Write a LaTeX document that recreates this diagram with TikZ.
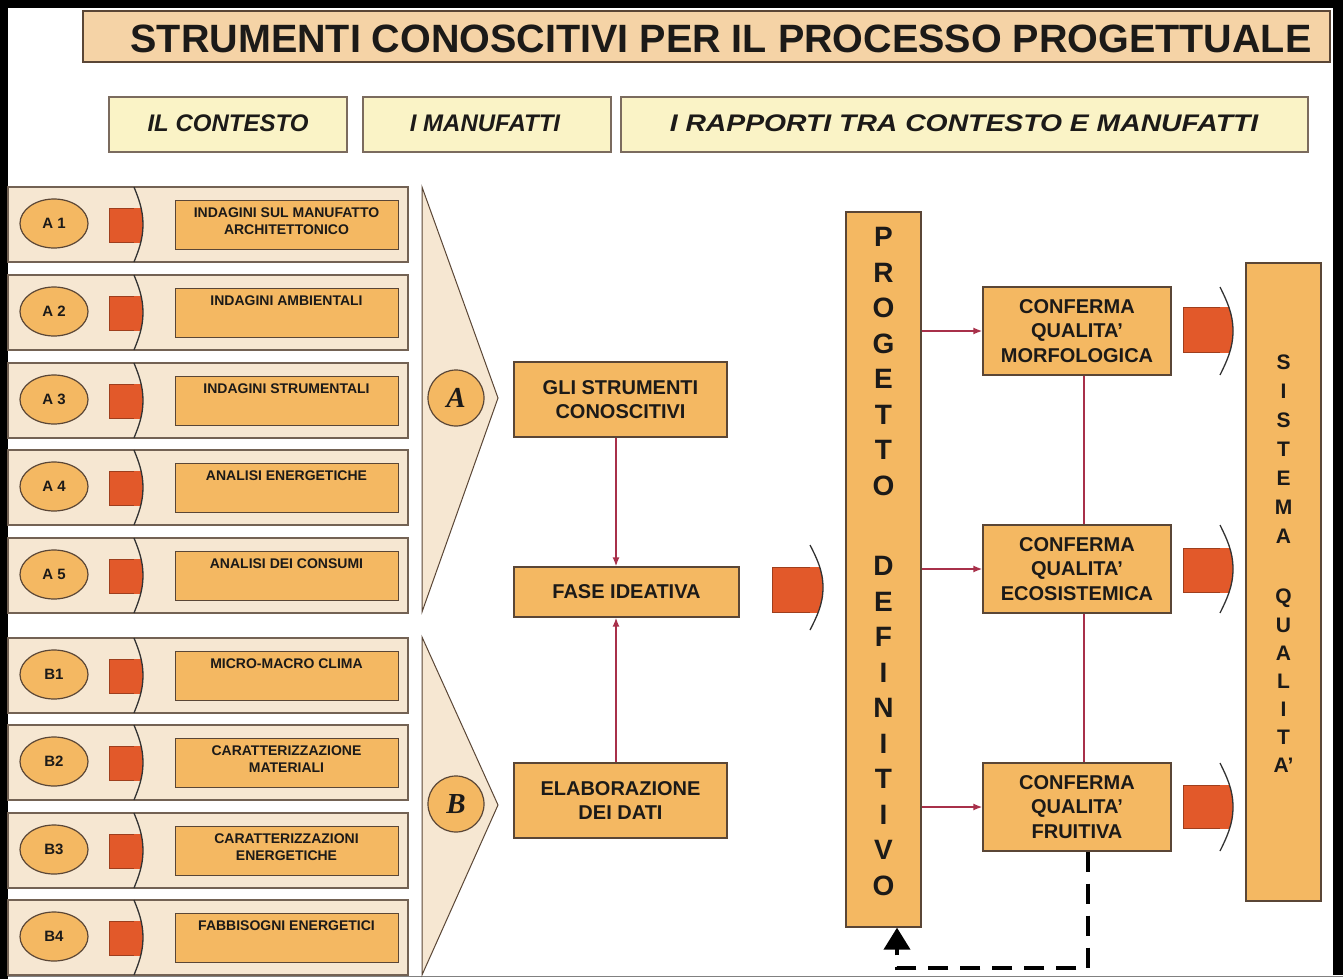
\documentclass[tikz,border=0pt]{standalone}
\usepackage{fontspec}
\setmainfont{Liberation Sans}
\newfontfamily\tnr{Liberation Serif}
\usetikzlibrary{arrows.meta,shapes.geometric}
\definecolor{titlefill}{HTML}{F5D3A6}
\definecolor{subfill}{HTML}{FAF3C6}
\definecolor{bandfill}{HTML}{F6E7D2}
\definecolor{boxfill}{HTML}{F4B862}
\definecolor{arrfill}{HTML}{E2592A}
\definecolor{edgec}{HTML}{5A4636}
\definecolor{redc}{HTML}{A8304A}
\definecolor{txtc}{HTML}{1C1A18}
\newcommand{\blockarr}[7]{%
  \pgfmathsetmacro\bam{(#4+#5)/2}%
  \pgfmathsetmacro\bah{(#5-#4)/2}%
  \pgfmathsetmacro\bad{#3-#2}%
  \begin{scope}
    \clip (#1,#6) rectangle (#3+1,#7);
    \fill[arrfill] (#1,#4) -- (#2,#4) .. controls ({#2+0.5*\bad},{#4+0.3*\bah}) and (#3,{\bam-0.4*\bah}) .. (#3,\bam) .. controls (#3,{\bam+0.4*\bah}) and ({#2+0.5*\bad},{#5-0.3*\bah}) .. (#2,#5) -- (#1,#5) -- cycle;
  \end{scope}
  \draw[arredge] (#2,#6) -- (#1,#6) -- (#1,#7) -- (#2,#7);
  \draw[arrhead] (#2,#4) .. controls ({#2+0.5*\bad},{#4+0.3*\bah}) and (#3,{\bam-0.4*\bah}) .. (#3,\bam) .. controls (#3,{\bam+0.4*\bah}) and ({#2+0.5*\bad},{#5-0.3*\bah}) .. (#2,#5);
}
\tikzset{
  titlebox/.style={draw=edgec, line width=1.3pt, fill=titlefill, inner sep=0pt},
  subbox/.style={draw=edgec!80, line width=1.3pt, fill=subfill, inner sep=0pt, minimum height=55pt},
  subtxt/.style={font=\fontsize{24}{24}\selectfont\bfseries\itshape, text=txtc},
  band/.style={draw=edgec!85, line width=1.2pt, fill=bandfill},
  arredge/.style={draw=arrfill!70!black, line width=0.8pt},
  arrhead/.style={draw=black!80, line width=1.3pt},
  lab/.style={ellipse, draw=edgec, line width=1.2pt, fill=boxfill, minimum width=68pt, minimum height=49pt, inner sep=0pt, font=\fontsize{15}{15}\selectfont\bfseries, text=txtc},
  itembox/.style={draw=edgec, line width=1.3pt, fill=boxfill, minimum width=223pt, minimum height=49pt, inner sep=0pt},
  itemtxt/.style={font=\fontsize{14}{17}\selectfont\bfseries, align=center, inner sep=0pt, text=txtc},
  chev/.style={draw=edgec, line width=1pt, fill=bandfill},
  circ/.style={circle, draw=edgec, line width=1.2pt, fill=boxfill, minimum size=56pt, inner sep=0pt, font=\fontsize{29}{29}\selectfont\tnr\bfseries\itshape, text=txtc},
  mainbox/.style={draw=edgec, line width=1.3pt, fill=boxfill, inner sep=0pt, align=center, font=\fontsize{20}{24.5}\selectfont\bfseries, text=txtc},
  bigl/.style={inner sep=0pt, font=\fontsize{28}{28}\selectfont\bfseries, text=txtc},
  sisl/.style={inner sep=0pt, font=\fontsize{21}{21}\selectfont\bfseries, text=txtc},
  redarr/.style={draw=redc, line width=1.5pt, -{Latex[length=9pt,width=7pt]}},
  redline/.style={draw=redc, line width=1.5pt},
  dashl/.style={draw=black, line width=4pt, dash pattern=on 20pt off 12pt, -{Triangle[length=22pt,width=26pt]}}
}
\begin{document}
\begin{tikzpicture}[x=1pt,y=-1pt]
\useasboundingbox (0,0) rectangle (1343,979);
\fill[white] (0,0) rectangle (1343,979);
% frame
\fill[black] (0,0) rectangle (8,979);
\fill[black] (0,0) rectangle (1343,8);
\fill[black] (1333,0) rectangle (1343,975);
\draw[gray, line width=1.5pt] (8,976.5) -- (1343,976.5);
% title
\node[titlebox, minimum width=1247pt, minimum height=51pt] (title) at (706.5,36.5) {};
\node[inner sep=0pt, font=\fontsize{39.5}{39.5}\selectfont\bfseries, text=txtc] (titletxt) at (721,39) {STRUMENTI CONOSCITIVI PER IL PROCESSO PROGETTUALE};
% sub headers
\node[subbox, minimum width=238pt] (h1) at (228,124.5) {};
\node[subtxt] (h1t) at (228,123) {IL CONTESTO};
\node[subbox, minimum width=248pt] (h2) at (487,124.5) {};
\node[subtxt] (h2t) at (485,123) {I MANUFATTI};
\node[subbox, minimum width=687pt] (h3) at (964.5,124.5) {};
\node[subtxt] (h3t) at (964,123) {\scalebox{1.18}[1]{I RAPPORTI TRA CONTESTO E MANUFATTI}};
% rows
\foreach \t/\lab/\txt [count=\i] in {187/{A 1}/{INDAGINI SUL MANUFATTO\\ARCHITETTONICO}, 275/{A 2}/{INDAGINI AMBIENTALI}, 363/{A 3}/{INDAGINI STRUMENTALI}, 450/{A 4}/{ANALISI ENERGETICHE}, 538/{A 5}/{ANALISI DEI CONSUMI}, 638/B1/{MICRO-MACRO CLIMA}, 725/B2/{CARATTERIZZAZIONE\\MATERIALI}, 813/B3/{CARATTERIZZAZIONI\\ENERGETICHE}, 900/B4/{FABBISOGNI ENERGETICI}}{
  \draw[band] (8,\t) rectangle (408,\t+75);
  \blockarr{109}{134}{143}{\t}{\t+75}{\t+21}{\t+55}
  \node[lab] (l\i) at (54,\t+36.5) {\lab};
  \node[itembox, anchor=north west] (b\i) at (175,\t+13) {};
  \node[itemtxt, anchor=north] (t\i) at (286.5,\t+21) {\txt};
}
% chevrons
\draw[chev] (422,187) -- (498,398) -- (422,612) -- cycle;
\draw[chev] (422,637) -- (498,805) -- (422,975) -- cycle;
\node[circ] (ca) at (456,398) {A};
\node[circ] (cb) at (456,804) {B};
% middle column
\node[mainbox, minimum width=213pt, minimum height=75pt] (gli) at (620.5,399.5) {GLI STRUMENTI\\CONOSCITIVI};
\node[mainbox, minimum width=225pt, minimum height=50pt] (fase) at (626.5,592) {FASE IDEATIVA};
\node[mainbox, minimum width=213pt, minimum height=75pt] (elab) at (620.5,800.5) {ELABORAZIONE\\DEI DATI};
\draw[redarr] ([xshift=-4.5pt]gli.south) -- ([xshift=-4.5pt]gli.south |- fase.north);
\draw[redarr] ([xshift=-4.5pt]elab.north) -- ([xshift=-4.5pt]elab.north |- fase.south);
\blockarr{772}{810}{823}{545}{630}{567}{612}
% progetto definitivo
\node[mainbox, minimum width=75pt, minimum height=715pt] (proj) at (883.5,569.5) {};
\foreach \c [count=\k from 0] in {P,R,O,G,E,T,T,O}
  \node[bigl] (pa\k) at (883.5,237+35.5*\k) {\c};
\foreach \c [count=\k from 0] in {D,E,F,I,N,I,T,I,V,O}
  \node[bigl] (pb\k) at (883.5,566+35.5*\k) {\c};
% conferme
\node[mainbox, minimum width=188pt, minimum height=88pt] (morf) at (1077,331) {CONFERMA\\QUALITA’\\MORFOLOGICA};
\node[mainbox, minimum width=188pt, minimum height=88pt] (eco) at (1077,569) {CONFERMA\\QUALITA’\\ECOSISTEMICA};
\node[mainbox, minimum width=188pt, minimum height=88pt] (fruit) at (1077,807) {CONFERMA\\QUALITA’\\FRUITIVA};
\draw[redarr] (proj.east |- morf.west) -- (morf.west);
\draw[redarr] (proj.east |- eco.west) -- (eco.west);
\draw[redarr] (proj.east |- fruit.west) -- (fruit.west);
\draw[redline] ([xshift=7pt]morf.south) -- ([xshift=7pt]eco.north);
\draw[redline] ([xshift=7pt]eco.south) -- ([xshift=7pt]fruit.north);
% right arrows
\blockarr{1183}{1220}{1233}{287}{375}{307}{352}
\blockarr{1183}{1220}{1233}{525}{613}{548}{592}
\blockarr{1183}{1220}{1233}{763}{851}{785}{828}
% sistema qualita
\node[mainbox, minimum width=75pt, minimum height=638pt] (sist) at (1283.5,582) {};
\foreach \c [count=\k from 0] in {S,I,S,T,E,M,A}
  \node[sisl] (sa\k) at (1283.5,362+29*\k) {\c};
\foreach \c [count=\k from 0] in {Q,U,A,L,I,T,A’}
  \node[sisl] (sb\k) at (1283.5,598+27.8*\k) {\c};
% feedback
\coordinate (fbk) at (897,968);
\draw[dashl] ([xshift=11pt]fruit.south) |- (fbk) -- (fbk |- proj.south);
\end{tikzpicture}
\end{document}
